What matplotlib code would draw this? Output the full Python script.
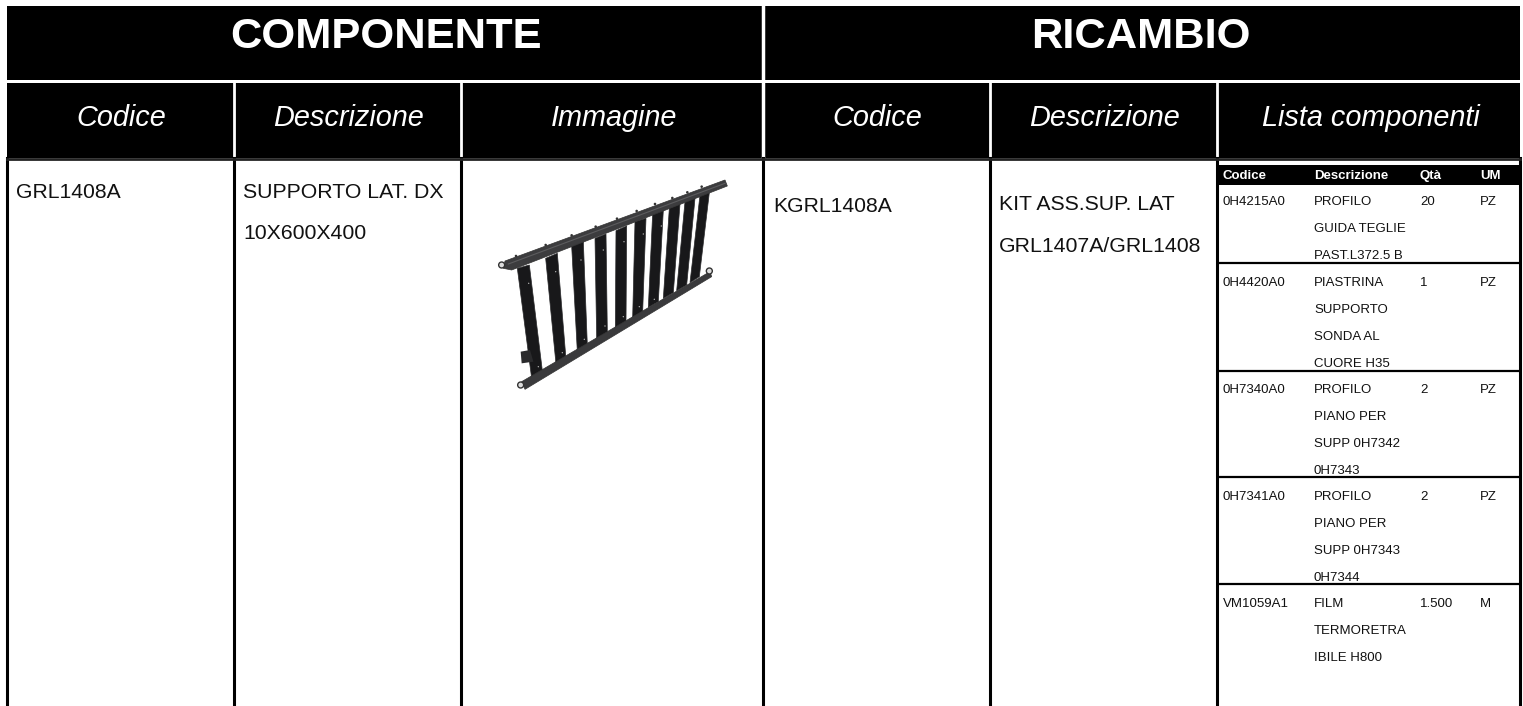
import matplotlib
matplotlib.use('Agg')
import matplotlib.pyplot as plt
import matplotlib.patches as patches

plt.rcParams['font.family'] = ['Liberation Sans', 'DejaVu Sans']

group_titles = ['COMPONENTE', 'RICAMBIO']
column_titles = ['Codice', 'Descrizione', 'Immagine', 'Codice', 'Descrizione', 'Lista componenti']
component_code = 'GRL1408A'
component_desc = ['SUPPORTO LAT. DX', '10X600X400']
spare_code = 'KGRL1408A'
spare_desc = ['KIT ASS.SUP. LAT', 'GRL1407A/GRL1408']

sub_titles = ['Codice', 'Descrizione', 'Qtà', 'UM']
sub_codes = ['0H4215A0', '0H4420A0', '0H7340A0', '0H7341A0', 'VM1059A1']
sub_descs = [['PROFILO', 'GUIDA TEGLIE', 'PAST.L372.5 B'],
             ['PIASTRINA', 'SUPPORTO', 'SONDA AL', 'CUORE H35'],
             ['PROFILO', 'PIANO PER', 'SUPP 0H7342', '0H7343'],
             ['PROFILO', 'PIANO PER', 'SUPP 0H7343', '0H7344'],
             ['FILM', 'TERMORETRA', 'IBILE H800']]
sub_qty = ['20', '1', '2', '2', '1.500']
sub_um = ['PZ', 'PZ', 'PZ', 'PZ', 'M']

# page layout in pixels
W, H = 1523, 706
col_x = [7, 234, 461, 763, 990, 1217, 1520]
sub_x = [1223, 1314, 1420, 1480]
row_lines = [263, 371, 477, 584]
row_text = [202, 283, 390, 497, 604]


def draw_grill(ax):
    # picture of the part (480, 160 is the crop corner)
    def px(pts):
        return [(480 + x / 3, 160 + y / 3) for x, y in pts]

    bars = [[(112, 325), (148, 315), (188, 640), (155, 655)],
            [(197, 295), (232, 280), (258, 598), (228, 612)],
            [(275, 258), (310, 245), (322, 555), (292, 575)],
            [(345, 235), (378, 222), (382, 518), (350, 535)],
            [(408, 212), (440, 198), (438, 488), (406, 502)],
            [(465, 185), (498, 175), (488, 455), (458, 472)],
            [(518, 160), (550, 150), (535, 425), (505, 442)],
            [(568, 145), (600, 132), (580, 398), (550, 415)],
            [(615, 125), (645, 115), (620, 375), (590, 392)],
            [(660, 105), (688, 98), (658, 350), (630, 368)]]
    for bar in bars:
        ax.add_patch(patches.Polygon(px(bar), facecolor='#18181a', edgecolor='#2a2a2c', lw=0.5))
    ax.add_patch(patches.Polygon(px([(122, 575), (150, 570), (160, 605), (125, 610)]),
                                 facecolor='#2a2a2c', edgecolor='none'))
    # rails
    ax.add_patch(patches.Polygon(px([(75, 303), (735, 60), (742, 78), (95, 330), (70, 325)]),
                                 facecolor='#3c3c3e', edgecolor='#333333', lw=0.5))
    ax.add_patch(patches.Polygon(px([(125, 665), (690, 335), (695, 350), (135, 688)]),
                                 facecolor='#3a3a3c', edgecolor='#333333', lw=0.5))
    ax.plot(*zip(*px([(85, 312), (735, 70)])), color='#5c5c5e', lw=0.8)
    for x, y in px([(65, 315), (122, 675), (688, 333)]):
        ax.add_patch(patches.Circle((x, y), 3, facecolor='#dddddd', edgecolor='#333333', lw=1))
    # pegs on the top rail
    for x, y in px([(108, 288), (197, 255), (275, 226), (347, 200), (411, 176),
                    (470, 153), (525, 132), (577, 114), (622, 97), (665, 80)]):
        ax.add_patch(patches.Circle((x, y), 1.3, facecolor='#333333', edgecolor='none'))
    # screw holes on the uprights
    for x, y in px([(146, 370), (175, 620), (227, 335), (247, 578), (303, 300), (313, 538),
                    (370, 270), (375, 498), (432, 245), (430, 470), (490, 222), (478, 440),
                    (544, 198), (523, 418)]):
        ax.add_patch(patches.Circle((x, y), 0.7, facecolor='#aaaaaa', edgecolor='none'))


fig = plt.figure(figsize=(W / 100, H / 100), dpi=100)
ax = fig.add_axes([0, 0, 1, 1])
ax.set_xlim(0, W)
ax.set_ylim(H, 0)
ax.axis('off')

# header bands
ax.add_patch(patches.Rectangle((7, 6), 1513, 74, facecolor='black', edgecolor='none'))
ax.add_patch(patches.Rectangle((7, 83), 1513, 75, facecolor='black', edgecolor='none'))
ax.plot([763, 763], [6, 158], color='white', lw=2.5)
for x in col_x[1:3] + col_x[4:6]:
    ax.plot([x, x], [83, 158], color='white', lw=2)

ax.text(386, 37, group_titles[0], color='white', fontsize=31.3, fontweight='bold', ha='center', va='center')
ax.text(1141, 37, group_titles[1], color='white', fontsize=31.3, fontweight='bold', ha='center', va='center')
title_shift = [1, 1, 2, 1, 1, 2]
for i, title in enumerate(column_titles):
    ax.text((col_x[i] + col_x[i + 1]) / 2 + title_shift[i], 118, title, color='white', fontsize=20.8,
            fontstyle='italic', ha='center', va='center')

# body grid lines
for x in col_x:
    ax.plot([x, x], [158, H], color='black', lw=2.2)
ax.plot([7, 1520], [159, 159], color='#222222', lw=2)

ax.text(16, 193, component_code, fontsize=15.2, color='#111111', va='center')
for i, line in enumerate(component_desc):
    ax.text(243, 193 + i * 40.5, line, fontsize=15.3, color='#111111', va='center')
ax.text(773, 206, spare_code, fontsize=15.2, color='#111111', va='center')
for i, line in enumerate(spare_desc):
    ax.text(999, 205 + i * 41, line, fontsize=15.3, color='#111111', va='center')

draw_grill(ax)

# nested parts table
ax.add_patch(patches.Rectangle((1219, 165), 301, 20, facecolor='black', edgecolor='none'))
for x, title in zip(sub_x, sub_titles):
    ax.text(x, 176, title, color='white', fontsize=9.5, fontweight='bold', va='center')
for i, code in enumerate(sub_codes):
    y0 = row_text[i]
    ax.text(sub_x[0], y0, code, fontsize=9.5, color='#111111', va='center')
    for j, line in enumerate(sub_descs[i]):
        ax.text(sub_x[1], y0 + j * 27, line, fontsize=9.5, color='#111111', va='center')
    ax.text(sub_x[2], y0, sub_qty[i], fontsize=9.5, color='#111111', va='center')
    ax.text(sub_x[3], y0, sub_um[i], fontsize=9.5, color='#111111', va='center')
for y in row_lines:
    ax.plot([1219, 1520], [y, y], color='black', lw=1.6)

fig.savefig('out.png', dpi=100)
